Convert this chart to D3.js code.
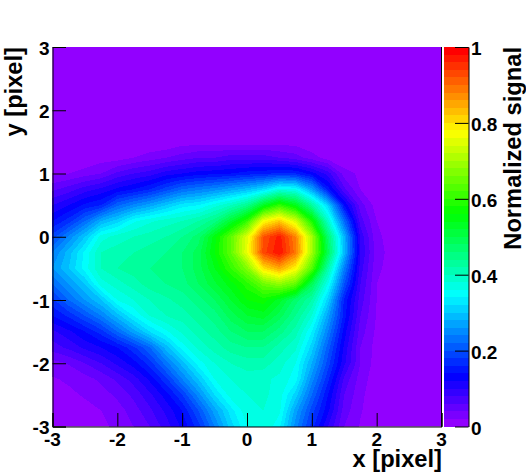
<!DOCTYPE html>
<html>
<head>
<meta charset="utf-8">
<script src="https://d3js.org/d3.v7.min.js"></script>
<style>
  html, body { margin: 0; padding: 0; background: #fff; }
  text { font-family: "Liberation Sans", Arial, sans-serif; font-weight: bold; fill: #000; }
</style>
</head>
<body>
<div id="my_dataviz"></div>

<script>
// grid axes, pixel coordinates of the sampled map
var xGrid = d3.range(25).map(function(i) { return -3 + i * 0.25; });
var yGrid = d3.range(25).map(function(i) { return 3 - i * 0.25; });

// signal in percent. one row per yGrid, top row first
var signal = [
  [0,0,0,0,0,0,0,0,0,0,0,0,0,0,0,0,0,0,0,0,0,0,0,0,0],
  [0,0,0,0,0,0,0,0,0,0,0,0,0,0,0,0,0,0,0,0,0,0,0,0,0],
  [0,0,0,0,0,0,0,0,0,0,0,0,0,0,0,0,0,0,0,0,0,0,0,0,0],
  [0,0,0,0,0,0,0,0,0,0,0,0,0,0,0,0,0,0,0,0,0,0,0,0,0],
  [0,0,0,0,0,0,0,0,0,0,0,0,0,0,0,0,0,0,0,0,0,0,0,0,0],
  [0,0,0,0,0,0,0,0,0,0,0,0,0,0,0,0,0,0,0,0,0,0,0,0,0],
  [0,0,0,0,0,0,0,0,1,1,1,1,1,1,1,1,0,0,0,0,0,0,0,0,0],
  [0,0,0,1,1,2,3,4,5,6,6,7,7,7,6,5,3,1,0,0,0,0,0,0,0],
  [1.5,2,3,4,6.5,8,9,11,12,13,13.5,14,15,15.5,16.5,16,13,9,3,1.5,0,0,0,0,0],
  [5.5,7,9,10.5,12.5,14,16,19,22,23.5,25,27,29,32,37,36,27,15,6.5,2,0.5,0,0,0,0],
  [10,12,14.5,16,21.5,24.5,27,30,33,34,37,40,44,53,60,54,43,31,14,5,1,0,0,0,0],
  [14,17,22,28,31,35.5,37.5,39,40,42,45,52,60,77,82,74,58,39,22,7,2,1,0,0,0],
  [19,24.5,30,37,39,40,41,42,44,47,55,64,75,92,97,88,70,47,28.5,9.5,2.5,1,0,0,0],
  [24,29,34.5,40,41,42,43,44,46,49,56,64,76,93,98,89,70,49,29,10,3,1,0,0,0],
  [26,30,35,40,42,43,44,45,46,49,54,60,67,80,85,78,63,42,24,9,2.5,1,0,0,0],
  [22,26,30,37,39,41,43,44,45,48,51.5,55,59,65,68,64,49,36,20,8,2,1,0,0,0],
  [17.5,22,26,30,36,38,40,41.5,43,45,48,52,56,57,53,47,42,31,15.5,7,2,1,0,0,0],
  [14,16.5,20,24,29,34,38,40,41,43,45,49,52,53,49,44,38,27,15,6,1.8,0.5,0,0,0],
  [9.5,11.5,14,17,22,27,32,35.5,38.5,41,43,46,48,48,45,41,34,24,13,5,1.5,0.5,0,0,0],
  [7,8.5,10.5,12,14,17.5,22,29,35,38.5,41,43,44,44,41,38.5,31,21,11.5,4,1.2,0.5,0,0,0],
  [3.2,4.2,6,8,10.5,13,17,23,29,35,38,40,41,41,39,36,28,19,10.5,4,1,0,0,0,0],
  [1.8,2.3,3.2,4.5,6.5,9,12.5,17.5,24,30,36,38,39,38.5,37.5,35,25,16.5,7.5,3,0.8,0,0,0,0],
  [1,1.6,2.2,3,4.5,6.5,9.5,13,18,25,32,37,38,38.5,37,31,22,14,6,2.5,0.6,0,0,0,0],
  [0.6,1,1.4,2,3,5,7.5,10.5,14,20,27,33,37.5,38,36.5,27,19,12.5,5,2.2,0.5,0,0,0,0],
  [0.5,0.6,1,1.5,2.5,4,6,9,12.5,17,24,31,36,38,34.5,25,17,10,4,1.8,0.4,0,0,0,0]
];

var xTicks = [-3,-2,-1,0,1,2,3];
var yTicks = [-3,-2,-1,0,1,2,3];
var zTicks = [0,0.2,0.4,0.6,0.8,1];
var xTitle = "x [pixel]";
var yTitle = "y [pixel]";
var zTitle = "Normalized signal";

var width = 526, height = 474;
var margin = {top: 47, right: 84.5, bottom: 47.5, left: 52.5};
var plotRight = width - margin.right, plotBottom = height - margin.bottom;
var barLeft = 444, barRight = 468.5;

var svg = d3.select("#my_dataviz").append("svg")
    .attr("width", width)
    .attr("height", height)
    .style("display", "block");

var x = d3.scaleLinear().domain([-3, 3]).range([margin.left, plotRight]);
var y = d3.scaleLinear().domain([-3, 3]).range([plotBottom, margin.top]);
var z = d3.scaleLinear().domain([0, 1]).range([plotBottom, margin.top]);

// ROOT "pretty" palette, 50 steps from violet to red
var nLevels = 50;
var levels = d3.range(nLevels);
var levelColor = function(i) {
    return d3.hsl(280 - (i + 1) * 280 / nLevels, 1, 0.5).formatHex();
};

// contour bands from the grid
svg.append("clipPath").attr("id", "plotClip")
  .append("rect")
    .attr("x", margin.left)
    .attr("y", margin.top)
    .attr("width", plotRight - margin.left)
    .attr("height", plotBottom - margin.top);

// d3.contours puts grid sample i at i+0.5
var gridX = d3.scaleLinear().domain([0.5, xGrid.length - 0.5]).range([x(xGrid[0]), x(xGrid[xGrid.length - 1])]);
var gridY = d3.scaleLinear().domain([0.5, yGrid.length - 0.5]).range([y(yGrid[0]), y(yGrid[yGrid.length - 1])]);
var project = d3.geoTransform({
    point: function(px, py) { this.stream.point(gridX(px), gridY(py)); }
});

var bands = d3.contours()
    .size([xGrid.length, yGrid.length])
    .thresholds(levels.map(function(i) { return i * 100 / nLevels; }))
    (d3.merge(signal));

svg.append("g")
    .attr("clip-path", "url(#plotClip)")
    .attr("shape-rendering", "crispEdges")
  .selectAll("path")
  .data(bands)
  .enter()
  .append("path")
    .attr("d", d3.geoPath(project))
    .attr("fill", function(d, i) { return levelColor(i); });

// color bar
svg.append("g")
    .attr("shape-rendering", "crispEdges")
  .selectAll("rect")
  .data(levels)
  .enter()
  .append("rect")
    .attr("x", barLeft)
    .attr("width", barRight - barLeft)
    .attr("y", function(i) { return z((i + 1) / nLevels); })
    .attr("height", function(i) { return z(i / nLevels) - z((i + 1) / nLevels); })
    .attr("fill", function(i) { return levelColor(i); });

// inward ticks, ROOT style
var majorLen = 13.5, minorLen = 7;
var minorOf = function(majors) {
    return d3.range(-3, 3.001, 0.2).filter(function(t) {
        return majors.indexOf(Math.round(t * 1000) / 1000) < 0;
    });
};

var xAxis = svg.append("g").attr("transform", "translate(0," + plotBottom + ")");
xAxis.call(d3.axisTop(x).tickValues(minorOf(xTicks)).tickSize(minorLen).tickFormat(""));
xAxis.call(d3.axisTop(x).tickValues(xTicks).tickSize(majorLen).tickFormat(""));
xAxis.selectAll("path").attr("stroke", "#000");

var yAxis = svg.append("g").attr("transform", "translate(" + margin.left + ",0)");
yAxis.call(d3.axisRight(y).tickValues(minorOf(yTicks)).tickSize(minorLen).tickFormat(""));
yAxis.call(d3.axisRight(y).tickValues(yTicks).tickSize(majorLen).tickFormat(""));

// right edge of the plot
svg.append("line")
    .attr("x1", plotRight).attr("x2", plotRight)
    .attr("y1", margin.top).attr("y2", plotBottom + 0.5)
    .attr("stroke", "#000");

var zAxis = svg.append("g").attr("transform", "translate(" + barRight + ",0)");
zAxis.call(d3.axisLeft(z).tickValues(zTicks).tickSize(majorLen).tickSizeOuter(0).tickFormat(""));

svg.append("g").selectAll("text")
  .data(xTicks).enter().append("text")
    .attr("x", function(d) { return x(d); })
    .attr("y", 446)
    .attr("text-anchor", "middle")
    .attr("font-size", 19)
    .text(function(d) { return d; });

svg.append("g").selectAll("text")
  .data(yTicks).enter().append("text")
    .attr("x", 49.5)
    .attr("y", function(d) { return y(d) + 7.5; })
    .attr("text-anchor", "end")
    .attr("font-size", 19)
    .text(function(d) { return d; });

svg.append("g").selectAll("text")
  .data(zTicks).enter().append("text")
    .attr("x", 471)
    .attr("y", function(d) { return z(d) + 8; })
    .attr("font-size", 19)
    .text(function(d) { return d; });

// titles
svg.append("text")
    .attr("x", 442)
    .attr("y", 467)
    .attr("text-anchor", "end")
    .attr("font-size", 23.7)
    .text(xTitle);

svg.append("text")
    .attr("transform", "translate(22,47) rotate(-90)")
    .attr("text-anchor", "end")
    .attr("font-size", 23.7)
    .text(yTitle);

svg.append("text")
    .attr("transform", "translate(521,47) rotate(-90)")
    .attr("text-anchor", "end")
    .attr("font-size", 23.7)
    .text(zTitle);
</script>
</body>
</html>
